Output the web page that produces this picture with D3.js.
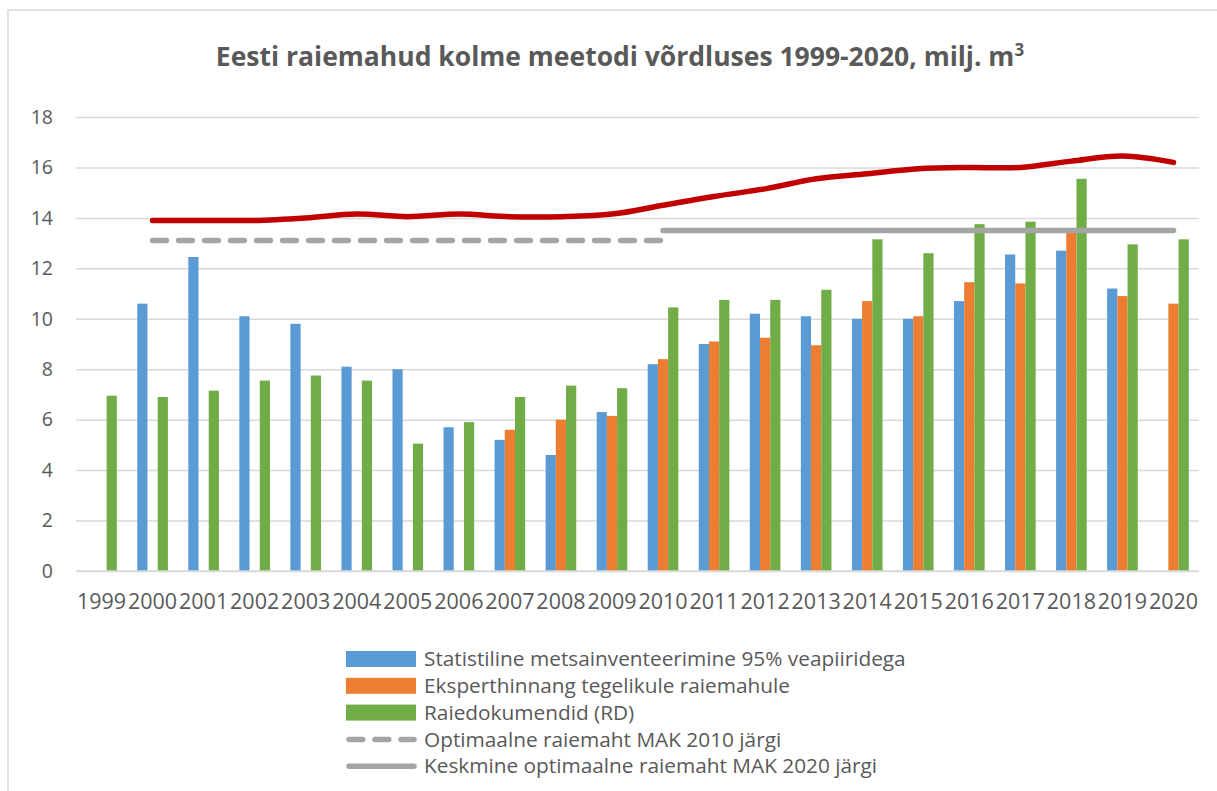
<!DOCTYPE html>
<html>
<head>
  <meta charset="utf-8">
  <title>Eesti raiemahud</title>
  <style>
    body { margin: 0; background: #fff; }
    svg { font-family: "Open Sans", sans-serif; }
  </style>
</head>
<body>
  <div id="chart"></div>

  <script src="https://d3js.org/d3.v7.min.js"></script>
  <script>
    // Data
    const years = ["1999", "2000", "2001", "2002", "2003", "2004", "2005", "2006", "2007", "2008", "2009",
      "2010", "2011", "2012", "2013", "2014", "2015", "2016", "2017", "2018", "2019", "2020"];

    const statistiline = [null, 10.6, 12.45, 10.1, 9.8, 8.1, 8.0, 5.7, 5.2, 4.6, 6.3,
      8.2, 9.0, 10.2, 10.1, 10.0, 10.0, 10.7, 12.55, 12.7, 11.2, null];
    const eksperthinnang = [null, null, null, null, null, null, null, null, 5.6, 6.0, 6.15,
      8.4, 9.1, 9.25, 8.95, 10.7, 10.1, 11.45, 11.4, 13.4, 10.9, 10.6];
    const raiedokumendid = [6.95, 6.9, 7.15, 7.55, 7.75, 7.55, 5.05, 5.9, 6.9, 7.35, 7.25,
      10.45, 10.75, 10.75, 11.15, 13.15, 12.6, 13.75, 13.85, 15.55, 12.95, 13.15];
    const punaneJoon = [null, 13.9, 13.9, 13.9, 14.0, 14.15, 14.05, 14.15, 14.05, 14.05, 14.15,
      14.5, 14.85, 15.15, 15.55, 15.75, 15.95, 16.0, 16.0, 16.25, 16.45, 16.2];
    const mak2010 = [null, 13.1, 13.1, 13.1, 13.1, 13.1, 13.1, 13.1, 13.1, 13.1, 13.1,
      13.1, null, null, null, null, null, null, null, null, null, null];
    const mak2020 = [null, null, null, null, null, null, null, null, null, null, null,
      13.5, 13.5, 13.5, 13.5, 13.5, 13.5, 13.5, 13.5, 13.5, 13.5, 13.5];

    const yTicks = [0, 2, 4, 6, 8, 10, 12, 14, 16, 18];

    const barSeries = [
      { name: "Statistiline metsainventeerimine 95% veapiiridega", values: statistiline, color: "#5B9BD5" },
      { name: "Eksperthinnang tegelikule raiemahule", values: eksperthinnang, color: "#ED7D31" },
      { name: "Raiedokumendid (RD)", values: raiedokumendid, color: "#70AD47" }
    ];

    const width = 1217;
    const height = 791;
    const plot = { left: 76, right: 1199, top: 117, bottom: 571 };
    const textColor = "#595959";
    const gridColor = "#D9D9D9";

    const svg = d3.select("#chart")
      .append("svg")
      .attr("width", width)
      .attr("height", height);

    // chart border (only top and left visible in the picture)
    svg.append("rect")
      .attr("x", 8).attr("y", 10)
      .attr("width", width + 20).attr("height", height + 20)
      .attr("fill", "none")
      .attr("stroke", gridColor)
      .attr("stroke-width", 1.5);

    svg.append("text")
      .attr("x", 620)
      .attr("y", 66)
      .attr("text-anchor", "middle")
      .attr("font-size", 26.5)
      .attr("font-weight", "bold")
      .attr("fill", textColor)
      .text("Eesti raiemahud kolme meetodi võrdluses 1999-2020, milj. m")
      .append("tspan")
      .attr("dy", -10)
      .attr("font-size", 17)
      .text("3");

    const x0 = d3.scaleBand()
      .domain(years)
      .range([plot.left, plot.right])
      .paddingInner(0.4)
      .paddingOuter(0.2);

    const x1 = d3.scaleBand()
      .domain(barSeries.map(s => s.name))
      .range([0, x0.bandwidth()]);

    const y = d3.scaleLinear()
      .domain([0, 18])
      .range([plot.bottom, plot.top]);

    const xCenter = i => x0(years[i]) + x0.bandwidth() / 2;

    // gridlines + y axis
    const yAxis = d3.axisLeft(y)
      .tickValues(yTicks)
      .tickSize(-(plot.right - plot.left))
      .tickPadding(23)
      .tickFormat(d3.format("d"));

    const gy = svg.append("g")
      .attr("transform", `translate(${plot.left},0)`)
      .call(yAxis);
    gy.select(".domain").remove();
    gy.selectAll(".tick line")
      .attr("stroke", gridColor)
      .attr("stroke-width", 1.5);
    gy.selectAll(".tick text")
      .attr("fill", textColor)
      .attr("font-size", 19.5)
      .attr("font-family", "Open Sans, sans-serif");

    // bars
    barSeries.forEach(s => {
      svg.append("g")
        .selectAll("rect")
        .data(years.map((yr, i) => ({ yr, v: s.values[i] })).filter(d => d.v != null))
        .join("rect")
        .attr("x", d => x0(d.yr) + x1(s.name))
        .attr("y", d => y(d.v))
        .attr("width", x1.bandwidth())
        .attr("height", d => y(0) - y(d.v))
        .attr("fill", s.color);
    });

    // x axis
    const xAxis = d3.axisBottom(x0).tickSize(0).tickPadding(23);
    const gx = svg.append("g")
      .attr("transform", `translate(0,${plot.bottom})`)
      .call(xAxis);
    gx.select(".domain")
      .attr("stroke", gridColor)
      .attr("stroke-width", 1.5)
      .attr("d", `M${plot.left},0H${plot.right}`);
    gx.selectAll(".tick text")
      .attr("fill", textColor)
      .attr("font-size", 21.5)
      .attr("font-family", "Open Sans, sans-serif");

    // lines
    const lineGen = (curve) => d3.line()
      .defined(d => d != null)
      .x((d, i) => xCenter(i))
      .y(d => y(d))
      .curve(curve);

    svg.append("path")
      .datum(mak2010)
      .attr("d", lineGen(d3.curveLinear))
      .attr("fill", "none")
      .attr("stroke", "#A5A5A5")
      .attr("stroke-width", 5.5)
      .attr("stroke-linecap", "round")
      .attr("stroke-dasharray", "13.8,12.2");

    svg.append("path")
      .datum(mak2020)
      .attr("d", lineGen(d3.curveLinear))
      .attr("fill", "none")
      .attr("stroke", "#A5A5A5")
      .attr("stroke-width", 5.5)
      .attr("stroke-linecap", "round");

    svg.append("path")
      .datum(punaneJoon)
      .attr("d", lineGen(d3.curveCatmullRom.alpha(0)))
      .attr("fill", "none")
      .attr("stroke", "#C00000")
      .attr("stroke-width", 5.5)
      .attr("stroke-linecap", "round");

    // legend
    const legendItems = [
      ...barSeries.map(s => ({ name: s.name, type: "rect", color: s.color })),
      { name: "Optimaalne raiemaht MAK 2010 järgi", type: "dash", color: "#A5A5A5" },
      { name: "Keskmine optimaalne raiemaht MAK 2020 järgi", type: "line", color: "#A5A5A5" }
    ];

    const legend = svg.append("g")
      .attr("transform", "translate(346,659)");

    legendItems.forEach((item, i) => {
      const g = legend.append("g").attr("transform", `translate(0,${i * 26.8})`);
      if (item.type === "rect") {
        g.append("rect")
          .attr("x", 0).attr("y", -8)
          .attr("width", 70).attr("height", 16)
          .attr("fill", item.color);
      } else {
        g.append("line")
          .attr("x1", 3).attr("x2", 68)
          .attr("stroke", item.color)
          .attr("stroke-width", 5.5)
          .attr("stroke-linecap", "round")
          .attr("stroke-dasharray", item.type === "dash" ? "13.8,12.2" : null);
      }
      g.append("text")
        .attr("x", 78)
        .attr("dy", "0.35em")
        .attr("font-size", 20.8)
        .attr("fill", textColor)
        .text(item.name);
    });
  </script>
</body>
</html>
